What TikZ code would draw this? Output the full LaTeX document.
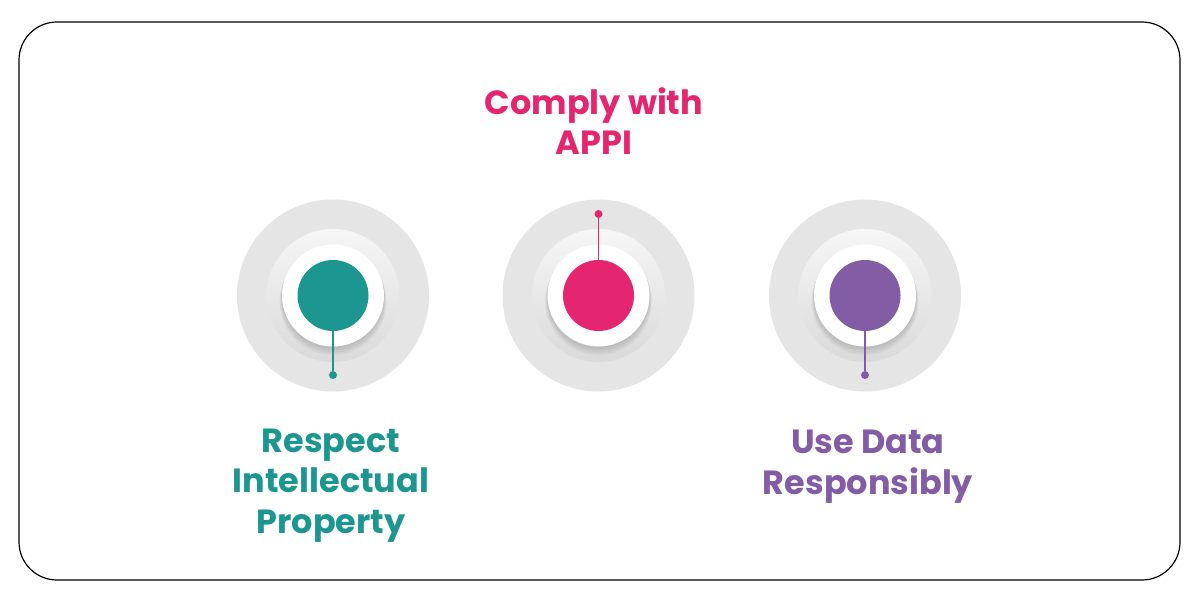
\documentclass[tikz,border=0pt]{standalone}
\usepackage{fontspec}
\setmainfont{Poppins}[BoldFont={* Bold}]
\usetikzlibrary{shadings,calc}
\definecolor{teal1}{HTML}{1C9690}
\definecolor{pink1}{HTML}{E6256F}
\definecolor{purp1}{HTML}{825CA5}
\definecolor{outerg}{HTML}{E6E5E5}
\definecolor{ringtop}{HTML}{F6F6F6}
\definecolor{ringbot}{HTML}{DADADA}
\tikzset{
  lbl/.style={font=\bfseries\fontsize{33.5}{40.5}\selectfont, align=center, anchor=base},
  conn/.style={line width=1.3pt},
  dotn/.style={circle, inner sep=0pt, minimum size=8pt},
}
\newcommand{\target}[3]{%
  \fill[outerg] (#1) circle (96);
  \shade[top color=ringtop, bottom color=ringbot] ($(#1)$) circle (66.5);
  \foreach \k/\o in {1/0.04,2/0.04,3/0.04,4/0.04}{
    \fill[black, opacity=\o] ($(#1)+(0,-\k*1.5)$) circle ({51+\k*0.6});
  }
  \fill[white] (#1) circle (51);
  \node[circle, fill=#2, minimum size=71pt, inner sep=0pt] (#3) at (#1) {};
}
\begin{document}
\begin{tikzpicture}[x=1pt,y=1pt]
\useasboundingbox (0,0) rectangle (1198,595);
\fill[white] (0,0) rectangle (1198,595);
\draw[line width=1.2pt, rounded corners=38] (19,573) rectangle (1180,15);
\coordinate (cL) at (333,299.5);
\coordinate (cM) at (598.5,299.5);
\coordinate (cR) at (865,299.5);
\target{cL}{teal1}{dL}
\target{cM}{pink1}{dM}
\target{cR}{purp1}{dR}
\node[dotn, fill=teal1] (pL) at (333,220) {};
\node[dotn, fill=pink1] (pM) at (598.5,381) {};
\node[dotn, fill=purp1] (pR) at (865,220) {};
\draw[conn, teal1] (dL) -- (pL);
\draw[conn, pink1] (dM) -- (pM);
\draw[conn, purp1] (dR) -- (pR);
\node[lbl, text=pink1] (tM) at (594,440) {Comply with\\APPI};
\node[lbl, text=teal1] (tL) at (331,62) {Respect\\Intellectual\\Property};
\node[lbl, text=purp1] (tR) at (868,101) {Use Data\\Responsibly};
\end{tikzpicture}
\end{document}
